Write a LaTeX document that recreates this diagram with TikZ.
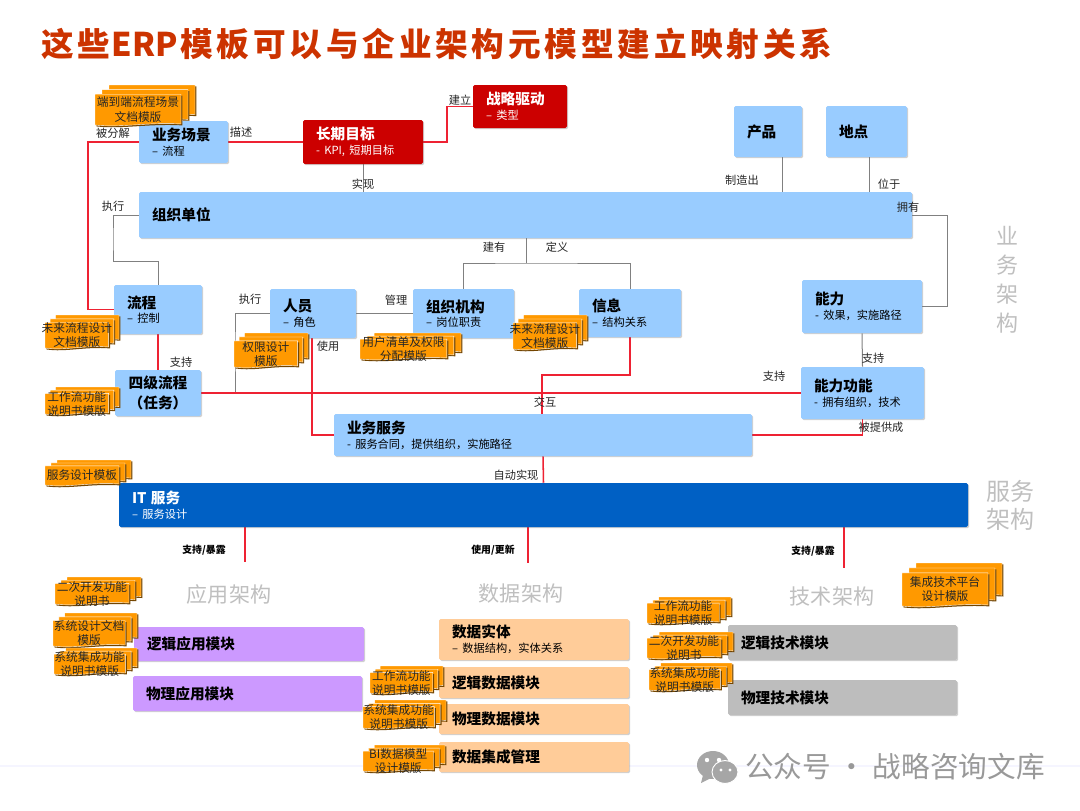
\documentclass[tikz,border=0pt]{standalone}
\usepackage{fontspec}
\setmainfont{Noto Sans CJK SC}
\newfontfamily\titlefont[LetterSpace=11.5]{Noto Sans CJK SC}
\usetikzlibrary{shadows,calc}
\pgfdeclarelayer{bg}
\pgfsetlayers{bg,main}
\definecolor{bluebox}{HTML}{99CCFF}
\definecolor{redbox}{HTML}{CC0000}
\definecolor{itblue}{HTML}{0060C4}
\definecolor{purplebox}{HTML}{CC99FF}
\definecolor{peachbox}{HTML}{FFCC99}
\definecolor{greybox}{HTML}{BDBDBD}
\definecolor{linkred}{HTML}{EE2233}
\definecolor{linkgrey}{HTML}{808080}
\definecolor{sheetorange}{HTML}{FF9900}
\definecolor{archgrey}{HTML}{BFBFBF}
\definecolor{titlered}{HTML}{CC3300}
\newcommand\bx[7]{%
  \pgfmathsetmacro\boxW{(#4-#2)*0.75}%
  \pgfmathsetmacro\boxH{(#5-#3)*0.75}%
  \pgfmathsetmacro\boxT{\boxW-19.5}%
  \pgfmathsetmacro\boxX{(#2+#4)/2}%
  \pgfmathsetmacro\boxY{(#3+#5)/2}%
  \node[basebox,#6,minimum width=\boxW pt,minimum height=\boxH pt,text width=\boxT pt] (#1) at (\boxX,\boxY) {#7};%
}
\newcommand\stk[6]{%
  \pgfmathsetmacro\sDx{0.07*(#4-#2)}%
  \pgfmathsetmacro\sDy{0.11*(#5-#3)}%
  \pgfmathsetmacro\sR{#4-2*\sDx}%
  \pgfmathsetmacro\sT{#3+2*\sDy}%
  \pgfmathsetmacro\sCa{#2+0.6*(\sR-#2)}%
  \pgfmathsetmacro\sCb{#2+0.3*(\sR-#2)}%
  \pgfmathsetmacro\sBa{#5-3}%
  \pgfmathsetmacro\sBb{#5-5}%
  \pgfmathsetmacro\sBc{#5+1}%
  \pgfmathsetmacro\sBd{#5-2}%
  \foreach \k in {2,1,0}{%
    \pgfmathsetmacro\ox{\sDx*\k}\pgfmathsetmacro\oy{-\sDy*\k}%
    \fill[sheetshadow,shift={(\ox+1.4,\oy+1.4)}] (#2,\sT) -- (\sR,\sT) -- (\sR,\sBa) .. controls (\sCa,\sBb) and (\sCb,\sBc) .. (#2,\sBd) -- cycle;%
    \filldraw[sheet,shift={(\ox,\oy)}] (#2,\sT) -- (\sR,\sT) -- (\sR,\sBa) .. controls (\sCa,\sBb) and (\sCb,\sBc) .. (#2,\sBd) -- cycle;%
  }%
  \pgfmathsetmacro\sX{(#2+\sR)/2}%
  \pgfmathsetmacro\sY{(\sT+#5)/2-1}%
  \node[stacktext] (#1) at (\sX,\sY) {#6};%
}
\tikzset{
  basebox/.style={rounded corners=1.2pt,align=left,inner xsep=9.75pt,inner ysep=0pt,text=black,
    drop shadow={shadow xshift=0.9pt,shadow yshift=-0.9pt,opacity=.3,fill=black!60}},
  blue/.style={fill=bluebox},
  redb/.style={fill=redbox,text=white},
  itb/.style={fill=itblue,text=white},
  purple/.style={fill=purplebox},
  peach/.style={fill=peachbox},
  grey/.style={fill=greybox},
  sheet/.style={fill=sheetorange,draw=white,line width=0.3pt},
  sheetshadow/.style={fill=black!55!sheetorange},
  stacktext/.style={align=center,inner sep=0pt,text=black!85,font=\fontsize{8.8}{10.6}\selectfont},
  lbl/.style={inner sep=0pt,text=black!85,font=\fontsize{8.4}{10}\selectfont},
  lblsm/.style={inner sep=0pt,text=black,font=\fontsize{7.4}{9}\selectfont\bfseries},
  arch/.style={inner sep=0pt,text=archgrey,align=center},
  redlink/.style={draw=linkred,line width=1.15pt},
  greylink/.style={draw=linkgrey,line width=0.75pt},
}
\newcommand\tl[1]{{\fontsize{11}{13}\selectfont\bfseries #1}}
\newcommand\sbt[1]{{\fontsize{8.4}{11}\selectfont #1}}
\begin{document}
\begin{tikzpicture}[x=0.75pt,y=-0.75pt]
\useasboundingbox (0,0) rectangle (1080,810);
\begin{pgfonlayer}{bg}
\fill[white] (0,0) rectangle (1080,810);
\fill[blue!4] (0,765) rectangle (1080,766.5);
\end{pgfonlayer}

\node[anchor=west,inner sep=0pt,text=titlered] (title) at (41,44) {\fontsize{24.5}{28}\selectfont\bfseries\titlefont 这些\hspace{1pt}{\addfontfeature{LetterSpace=0}ERP}\hspace{2pt}模板可以与企业架构元模型建立映射关系};

% boxes
\bx{cj}{139}{121}{228}{163}{blue}{\tl{业务场景}\\[-1pt]\sbt{– 流程}}
\bx{cq}{303}{120}{423}{164}{redb}{\tl{长期目标}\\[-1pt]\sbt{- KPI, 短期目标}}
\bx{zl}{473}{85}{567}{128}{redb}{\tl{战略驱动}\\[-1pt]\sbt{– 类型}}
\bx{cp}{734}{106}{802}{157}{blue}{\tl{产品}}
\bx{dd}{826}{106}{907}{157}{blue}{\tl{地点}}
\bx{org}{139}{192}{912}{238}{blue}{\tl{组织单位}}
\bx{lc}{114}{285}{202}{334}{blue}{\tl{流程}\\[-1pt]\sbt{– 控制}}
\bx{ry}{270}{289}{356}{338}{blue}{\tl{人员}\\[-1pt]\sbt{– 角色}}
\bx{zz}{413}{289}{514}{338}{blue}{\tl{组织机构}\\[-1pt]\sbt{– 岗位职责}}
\bx{xx}{579}{289}{681}{337}{blue}{\tl{信息}\\[-1pt]\sbt{– 结构关系}}
\bx{nl}{802}{280}{922}{333}{blue}{\tl{能力}\\[-1pt]\sbt{- 效果，实施路径}}
\bx{sj}{115}{370}{201}{416}{blue,align=center}{\tl{四级流程}\\[3pt]\tl{（任务）}}
\bx{gn}{801}{367}{924}{419}{blue}{\tl{能力功能}\\[-1pt]\sbt{- 拥有组织，技术}}
\bx{fw}{334}{414}{752}{456}{blue}{\tl{业务服务}\\[-1pt]\sbt{- 服务合同，提供组织，实施路径}}
\bx{it}{119}{483}{968}{527}{itb}{\tl{IT 服务}\\[-1pt]\sbt{– 服务设计}}
\bx{yl}{134}{627}{364}{661}{purple}{\tl{逻辑应用模块}}
\bx{yw}{133}{676}{362}{711}{purple}{\tl{物理应用模块}}
\bx{ds}{439}{619}{629}{660}{peach}{\tl{数据实体}\\[-1pt]\sbt{– 数据结构，实体关系}}
\bx{dl}{439}{667}{629}{698}{peach}{\tl{逻辑数据模块}}
\bx{dw}{439}{704}{629}{734}{peach}{\tl{物理数据模块}}
\bx{dj}{439}{742}{629}{772}{peach}{\tl{数据集成管理}}
\bx{jl}{728}{625}{957}{660}{grey}{\tl{逻辑技术模块}}
\bx{jw}{728}{680}{957}{715}{grey}{\tl{物理技术模块}}

% connector bend points
\coordinate (b1) at (88,200);
\coordinate (b2) at (447,125);
\coordinate (b3) at (113,240);
\coordinate (b4) at (158,261);
\coordinate (b5) at (526,263);
\coordinate (b6) at (947,260);
\coordinate (b7) at (235,350);
\coordinate (b8) at (542,375);
\coordinate (p1) at (782,157);
\coordinate (p2) at (869,157);
\coordinate (r1) at (312,336);
\coordinate (r2) at (245,527);
\coordinate (r3) at (528,527);
\coordinate (r4) at (844,527);
\coordinate (e1) at (245,562);
\coordinate (e2) at (528,563);
\coordinate (e3) at (844,568);

\begin{pgfonlayer}{bg}
\draw[greylink] (cq.south) -- (cq.south |- org.north);
\draw[greylink] (org.west) -| (b3) |- (b4) -- (lc.north);
\draw[greylink] (b5 |- org.south) -- (b5);
\draw[greylink] (zz.north) |- (b5) -| (xx.north);
\draw[greylink] (p1) -- (p1 |- org.north);
\draw[greylink] (p2) -- (p2 |- org.north);
\draw[greylink] (org.east) -| (b6) |- (nl.east);
\draw[greylink] (nl.south) -- (gn.north);
\draw[greylink] (ry.west) -| (b7) |- (sj.east);
\draw[greylink] (ry.east) -- (zz.west);
\draw[redlink] (cj.west) -| (b1) |- (lc.west);
\draw[redlink] (cj.east) -- (cq.west);
\draw[redlink] (cq.east) -| (b2) |- (zl.west);
\draw[redlink] (lc.south) -- (sj.north);
\draw[redlink] (sj.east) -- (gn.west);
\draw[redlink] (r1) |- (fw.west);
\draw[redlink] (xx.south) |- (b8) -- (b8 |- fw.north);
\draw[redlink] (fw.east) -| (gn.south);
\draw[redlink] (fw.south) -- (it.north);
\draw[redlink] (r2) -- (e1);
\draw[redlink] (r3) -- (e2);
\draw[redlink] (r4) -- (e3);
\end{pgfonlayer}

% template stacks
\stk{s1}{95}{85}{195}{127}{端到端流程场景\\文档模版}
\stk{s2}{45}{315}{119}{350}{未来流程设计\\文档模版}
\stk{s3}{234}{333}{308}{369}{权限设计\\模版}
\stk{s4}{360}{333}{461}{361}{用户清单及权限\\分配模版}
\stk{s5}{513}{315}{587}{351}{未来流程设计\\文档模版}
\stk{s6}{45}{387}{119}{416}{工作流功能\\说明书模版}
\stk{s7}{45}{460}{131}{487}{服务设计模板}
\stk{s8}{55}{577}{141}{606}{二次开发功能\\说明书}
\stk{s9}{53}{613}{137}{648}{系统设计文档\\模版}
\stk{s10}{54}{648}{137}{676}{系统集成功能\\说明书模版}
\stk{s11}{370}{666}{443}{695}{工作流功能\\说明书模版}
\stk{s12}{363}{700}{446}{730}{系统集成功能\\说明书模版}
\stk{s13}{363}{745}{445}{773}{BI数据模型\\设计模版}
\stk{s14}{647}{597}{731}{625}{工作流功能\\说明书模版}
\stk{s15}{647}{632}{733}{660}{二次开发功能\\说明书}
\stk{s16}{649}{663}{732}{692}{系统集成功能\\说明书模版}
\stk{s17}{902}{563}{1002}{608}{集成技术平台\\设计模版}

% connector labels
\node[lbl] (l1) at (113,133) {被分解};
\node[lbl] (l2) at (241,132) {描述};
\node[lbl] (l3) at (460,100) {建立};
\node[lbl] (l4) at (363,184) {实现};
\node[lbl] (l5) at (113,206) {执行};
\node[lbl] (l6) at (742,180) {制造出};
\node[lbl] (l7) at (889,184) {位于};
\node[lbl] (l8) at (908,207) {拥有};
\node[lbl] (l9) at (494,247) {建有};
\node[lbl] (l10) at (557,247) {定义};
\node[lbl] (l11) at (250,299) {执行};
\node[lbl] (l12) at (396,300) {管理};
\node[lbl] (l13) at (328,346) {使用};
\node[lbl] (l14) at (181,362) {支持};
\node[lbl] (l15) at (774,376) {支持};
\node[lbl] (l16) at (873,358) {支持};
\node[lbl] (l17) at (545,402) {交互};
\node[lbl] (l18) at (881,427) {被提供成};
\node[lbl] (l19) at (516,475) {自动实现};
\node[lblsm] (l20) at (204,550) {支持/暴露};
\node[lblsm] (l21) at (493,550) {使用/更新};
\node[lblsm] (l22) at (813,551) {支持/暴露};

% architecture headings
\node[arch,font=\fontsize{16.5}{21.7}\selectfont] (a1) at (1007,280) {业\\务\\架\\构};
\node[arch,font=\fontsize{18}{21}\selectfont] (a2) at (1010,505) {服务\\架构};
\node[arch,font=\fontsize{15.8}{19}\selectfont] (a3) at (229,594) {应用架构};
\node[arch,font=\fontsize{15.8}{19}\selectfont] (a4) at (521,594) {数据架构};
\node[arch,font=\fontsize{15.8}{19}\selectfont] (a5) at (832,596) {技术架构};

% watermark
\fill[black!35] (713,765) ellipse (16 and 14);
\fill[black!35] (703,775) -- (701,783) -- (711,778) -- cycle;
\filldraw[fill=black!35,draw=white,line width=0.7pt] (725,772) ellipse (13 and 11.5);
\fill[white] (707,760) circle (2.2) (719,760) circle (2.2) (721,770) circle (1.7) (730,770) circle (1.7);
\node[anchor=west,inner sep=0pt,text=black!40] (wm) at (745,767) {\fontsize{21.5}{25}\selectfont 公众号 · 战略咨询文库};
\end{tikzpicture}
\end{document}
